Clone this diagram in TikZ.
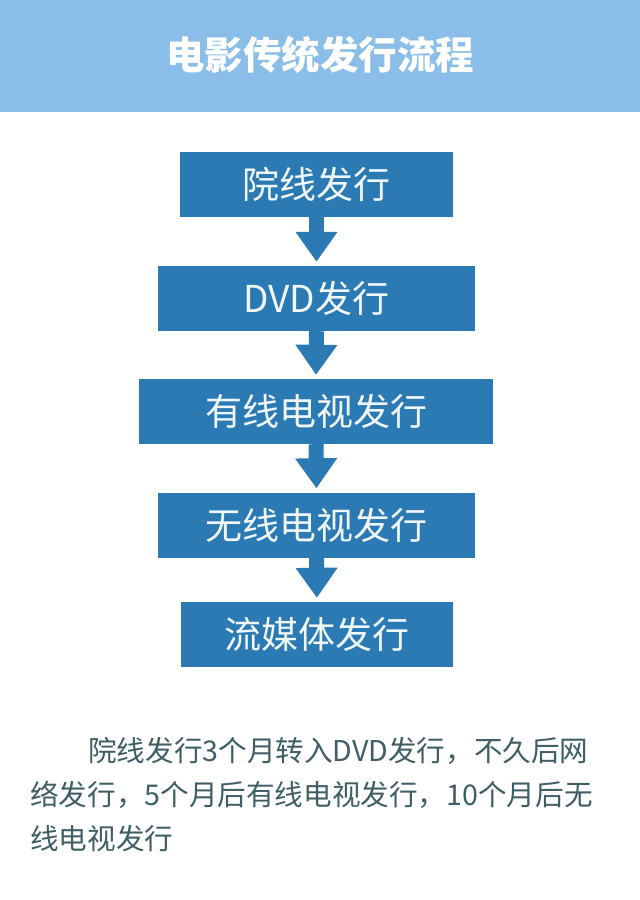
\documentclass[tikz,border=0pt]{standalone}
\usepackage{fontspec}
\setmainfont{Noto Sans CJK SC}
\usetikzlibrary{arrows.meta}
\definecolor{headblue}{HTML}{8ABEE8}
\definecolor{boxblue}{HTML}{2B7AB3}
\definecolor{boxtext}{HTML}{F0F7FA}
\definecolor{bodytext}{HTML}{3F5E66}
\tikzset{
  stepbox/.style={fill=boxblue, draw=none, inner sep=0pt, minimum height=65pt,
    text=boxtext, font=\fontsize{37}{40}\selectfont},
  flowarrow/.style={boxblue, line width=15pt,
    -{Triangle[width=40pt,length=30pt]}, shorten >=4pt},
  bodyline/.style={anchor=base west, inner sep=0pt, text=bodytext,
    font=\fontsize{28.6}{44}\selectfont}
}
\begin{document}
\begin{tikzpicture}[x=1pt,y=-1pt]
\useasboundingbox[fill=white] (0,0) rectangle (640,900);
\fill[headblue] (0,0) rectangle (640,112);
\node[text=white, font=\fontsize{38.5}{40}\selectfont\bfseries, inner sep=0pt] (title) at (320,55) {电影传统发行流程};

\node[stepbox, minimum width=273pt] (b1) at (316.5,184.5) {院线发行};
\node[stepbox, minimum width=317pt] (b2) at (316.5,298.5) {DVD发行};
\node[stepbox, minimum width=354pt] (b3) at (316,411.5) {有线电视发行};
\node[stepbox, minimum width=317pt] (b4) at (316.5,525) {无线电视发行};
\node[stepbox, minimum width=272pt] (b5) at (317,634.5) {流媒体发行};

\draw[flowarrow] (b1.south) -- (b2.north);
\draw[flowarrow] (b2.south) -- (b3.north);
\draw[flowarrow] (b3.south) -- (b4.north);
\draw[flowarrow] (b4.south) -- (b5.north);

\node[bodyline] (l1) at (88,761) {院线发行3个月转入DVD发行，不久后网};
\node[bodyline] (l2) at (30,805) {络发行，5个月后有线电视发行，10个月后无};
\node[bodyline] (l3) at (30,849) {线电视发行};
\end{tikzpicture}
\end{document}
